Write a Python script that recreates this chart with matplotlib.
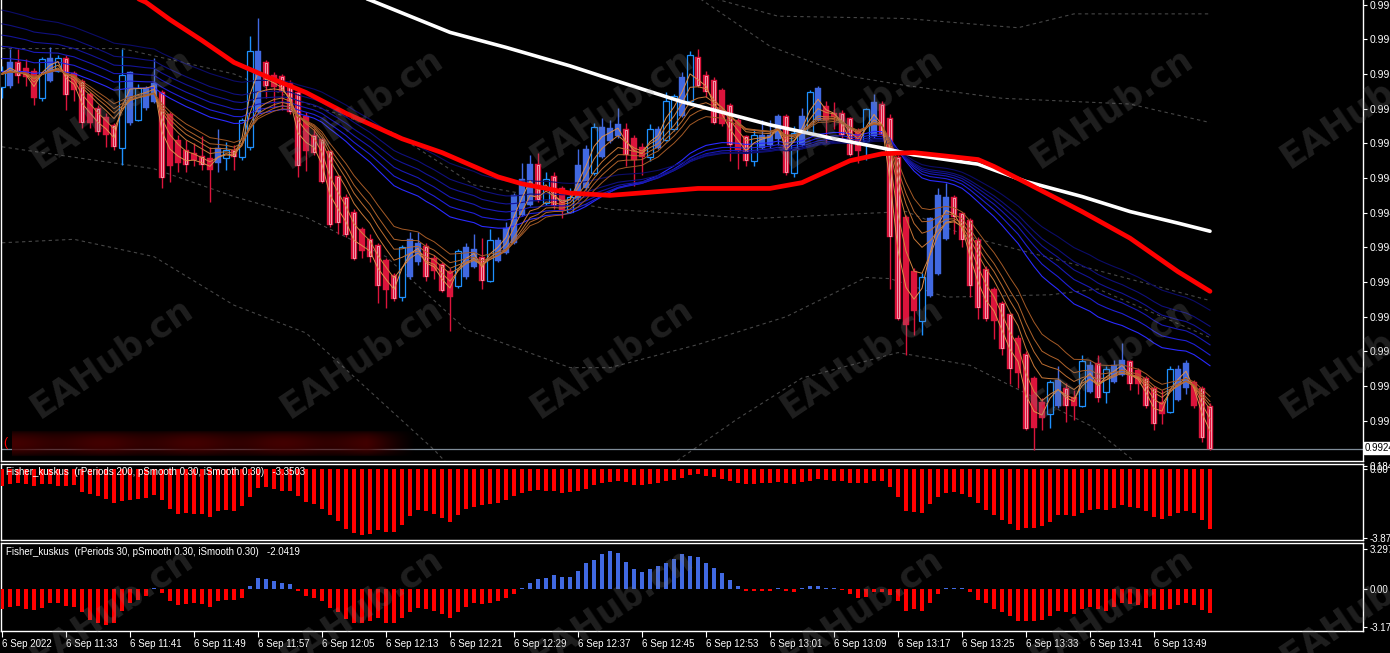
"""
MT4-style 1-minute chart with GMMA ribbons and two Fisher_kuskus sub-windows.
"""

import numpy as np
import pandas as pd
import matplotlib
matplotlib.use("Agg")
import matplotlib.pyplot as plt

# ── Bars: 6 Sep 2022, 1-minute, 11:25 .. 13:56 ────────────────────────────────
opens = [
    0.99559, 0.99560, 0.99580, 0.99575, 0.99573, 0.99549, 0.99564, 0.99573, 0.99584, 0.99571,
    0.99564, 0.99553, 0.99541, 0.99533, 0.99526, 0.99506, 0.99528, 0.99530, 0.99541, 0.99546,
    0.99554, 0.99535, 0.99513, 0.99504, 0.99502, 0.99499, 0.99497, 0.99493, 0.99497, 0.99504,
    0.99498, 0.99507, 0.99537, 0.99580, 0.99569, 0.99568, 0.99562, 0.99554, 0.99534, 0.99517,
    0.99514, 0.99503, 0.99482, 0.99464, 0.99451, 0.99436, 0.99427, 0.99422, 0.99409, 0.99396,
    0.99377, 0.99394, 0.99407, 0.99421, 0.99411, 0.99406, 0.99400, 0.99387, 0.99394, 0.99403,
    0.99412, 0.99391, 0.99408, 0.99415, 0.99424, 0.99448, 0.99457, 0.99492, 0.99458, 0.99482,
    0.99471, 0.99451, 0.99462, 0.99471, 0.99484, 0.99498, 0.99512, 0.99516, 0.99522, 0.99515,
    0.99507, 0.99498, 0.99506, 0.99513, 0.99522, 0.99534, 0.99547, 0.99585, 0.99569, 0.99565,
    0.99556, 0.99543, 0.99530, 0.99516, 0.99495, 0.99506, 0.99509, 0.99514, 0.99534, 0.99484,
    0.99509, 0.99519, 0.99530, 0.99542, 0.99536, 0.99536, 0.99532, 0.99521, 0.99512, 0.99516,
    0.99544, 0.99532, 0.99498, 0.99446, 0.99400, 0.99356, 0.99378, 0.99397, 0.99427, 0.99464,
    0.99450, 0.99444, 0.99426, 0.99401, 0.99384, 0.99372, 0.99362, 0.99342, 0.99328, 0.99307,
    0.99286, 0.99276, 0.99283, 0.99298, 0.99291, 0.99283, 0.99295, 0.99320, 0.99295, 0.99304,
    0.99310, 0.99322, 0.99314, 0.99307, 0.99298, 0.99286, 0.99278, 0.99288, 0.99298, 0.99304,
    0.99298, 0.99283,
]
highs = [
    0.99577, 0.99592, 0.99592, 0.99583, 0.99575, 0.99585, 0.99593, 0.99586, 0.99586, 0.99573,
    0.99566, 0.99554, 0.99543, 0.99536, 0.99528, 0.99592, 0.99573, 0.99561, 0.99560, 0.99584,
    0.99556, 0.99537, 0.99517, 0.99513, 0.99510, 0.99516, 0.99507, 0.99522, 0.99511, 0.99509,
    0.99532, 0.99603, 0.99618, 0.99582, 0.99572, 0.99570, 0.99565, 0.99556, 0.99537, 0.99522,
    0.99515, 0.99504, 0.99483, 0.99466, 0.99453, 0.99438, 0.99432, 0.99424, 0.99411, 0.99398,
    0.99422, 0.99433, 0.99433, 0.99424, 0.99413, 0.99407, 0.99402, 0.99419, 0.99424, 0.99432,
    0.99428, 0.99436, 0.99429, 0.99442, 0.99467, 0.99493, 0.99500, 0.99502, 0.99485, 0.99485,
    0.99473, 0.99471, 0.99505, 0.99509, 0.99528, 0.99532, 0.99530, 0.99541, 0.99528, 0.99517,
    0.99510, 0.99527, 0.99525, 0.99554, 0.99553, 0.99572, 0.99590, 0.99592, 0.99573, 0.99567,
    0.99558, 0.99545, 0.99532, 0.99517, 0.99522, 0.99530, 0.99530, 0.99535, 0.99535, 0.99525,
    0.99541, 0.99556, 0.99560, 0.99547, 0.99546, 0.99539, 0.99533, 0.99523, 0.99541, 0.99553,
    0.99547, 0.99535, 0.99500, 0.99448, 0.99402, 0.99398, 0.99446, 0.99471, 0.99476, 0.99465,
    0.99451, 0.99445, 0.99429, 0.99404, 0.99386, 0.99374, 0.99363, 0.99344, 0.99330, 0.99309,
    0.99290, 0.99305, 0.99317, 0.99303, 0.99297, 0.99327, 0.99322, 0.99327, 0.99317, 0.99323,
    0.99337, 0.99323, 0.99316, 0.99309, 0.99300, 0.99297, 0.99317, 0.99318, 0.99323, 0.99305,
    0.99300, 0.99285,
]
lows = [
    0.99549, 0.99558, 0.99562, 0.99560, 0.99543, 0.99547, 0.99563, 0.99572, 0.99539, 0.99547,
    0.99523, 0.99523, 0.99517, 0.99507, 0.99504, 0.99491, 0.99526, 0.99529, 0.99539, 0.99545,
    0.99471, 0.99477, 0.99485, 0.99485, 0.99490, 0.99487, 0.99459, 0.99485, 0.99487, 0.99487,
    0.99496, 0.99504, 0.99536, 0.99549, 0.99541, 0.99539, 0.99535, 0.99481, 0.99486, 0.99500,
    0.99476, 0.99438, 0.99432, 0.99429, 0.99409, 0.99411, 0.99407, 0.99372, 0.99368, 0.99374,
    0.99374, 0.99393, 0.99405, 0.99391, 0.99393, 0.99381, 0.99348, 0.99385, 0.99393, 0.99402,
    0.99384, 0.99390, 0.99407, 0.99414, 0.99423, 0.99447, 0.99456, 0.99459, 0.99457, 0.99453,
    0.99445, 0.99450, 0.99461, 0.99470, 0.99483, 0.99497, 0.99510, 0.99515, 0.99490, 0.99473,
    0.99483, 0.99495, 0.99505, 0.99512, 0.99521, 0.99533, 0.99546, 0.99559, 0.99550, 0.99527,
    0.99525, 0.99495, 0.99488, 0.99490, 0.99490, 0.99505, 0.99506, 0.99509, 0.99483, 0.99481,
    0.99508, 0.99518, 0.99529, 0.99510, 0.99522, 0.99514, 0.99499, 0.99493, 0.99496, 0.99515,
    0.99516, 0.99384, 0.99357, 0.99327, 0.99344, 0.99344, 0.99377, 0.99396, 0.99426, 0.99432,
    0.99420, 0.99377, 0.99358, 0.99356, 0.99341, 0.99327, 0.99302, 0.99298, 0.99262, 0.99245,
    0.99262, 0.99264, 0.99281, 0.99269, 0.99271, 0.99282, 0.99294, 0.99286, 0.99285, 0.99303,
    0.99309, 0.99297, 0.99293, 0.99281, 0.99262, 0.99267, 0.99277, 0.99287, 0.99293, 0.99281,
    0.99252, 0.99245,
]
closes = [
    0.99573, 0.99580, 0.99568, 0.99567, 0.99549, 0.99583, 0.99584, 0.99584, 0.99552, 0.99556,
    0.99528, 0.99528, 0.99520, 0.99517, 0.99507, 0.99569, 0.99572, 0.99558, 0.99558, 0.99562,
    0.99480, 0.99490, 0.99493, 0.99491, 0.99496, 0.99491, 0.99487, 0.99506, 0.99504, 0.99498,
    0.99530, 0.99590, 0.99590, 0.99560, 0.99559, 0.99554, 0.99537, 0.99490, 0.99503, 0.99502,
    0.99477, 0.99439, 0.99441, 0.99431, 0.99410, 0.99417, 0.99412, 0.99387, 0.99383, 0.99375,
    0.99420, 0.99427, 0.99424, 0.99394, 0.99400, 0.99382, 0.99377, 0.99417, 0.99420, 0.99419,
    0.99391, 0.99426, 0.99426, 0.99437, 0.99465, 0.99479, 0.99492, 0.99461, 0.99479, 0.99456,
    0.99452, 0.99464, 0.99491, 0.99505, 0.99524, 0.99524, 0.99523, 0.99527, 0.99500, 0.99496,
    0.99498, 0.99522, 0.99522, 0.99547, 0.99551, 0.99567, 0.99586, 0.99560, 0.99554, 0.99528,
    0.99527, 0.99509, 0.99503, 0.99495, 0.99517, 0.99517, 0.99517, 0.99534, 0.99484, 0.99519,
    0.99534, 0.99554, 0.99558, 0.99530, 0.99533, 0.99517, 0.99500, 0.99503, 0.99540, 0.99546,
    0.99517, 0.99429, 0.99358, 0.99353, 0.99365, 0.99394, 0.99445, 0.99465, 0.99464, 0.99446,
    0.99426, 0.99387, 0.99368, 0.99358, 0.99356, 0.99332, 0.99315, 0.99311, 0.99263, 0.99264,
    0.99272, 0.99304, 0.99305, 0.99283, 0.99283, 0.99322, 0.99318, 0.99290, 0.99315, 0.99318,
    0.99323, 0.99302, 0.99302, 0.99283, 0.99267, 0.99276, 0.99315, 0.99315, 0.99320, 0.99283,
    0.99255, 0.99246,
]
# body look per bar: f = filled, h = hollow (bull), s = striped (bear)
styles = ("hfsffhfhsf" "sfsfshfhff" "sffsfsffhs" "hhfsfsssfs" "sssssfssfs"
          "hffsfsfhff" "shfffffshs" "fhffhfffsf" "fhfhhfhsss" "fsfshfffsh"
          "fhfffssfhf" "sssffhfffs" "ssssfssfsf" "fhfsfhfshf" "fsfssfhfff" "ss")

# ── slow moving averages (red / white), read at bar indexes ───────────────────
red_ma_idx = [0, 12, 18, 21, 25, 29, 33, 38, 43, 50, 55, 62, 65, 71, 76, 87, 96,
              100, 106, 110, 114, 118, 122, 124, 128, 135, 141, 147, 151]
red_ma = [0.99695, 0.99651, 0.99632, 0.99617, 0.99599, 0.99580, 0.99568, 0.99554,
          0.99536, 0.99514, 0.99502, 0.99481, 0.99475, 0.99467, 0.99465, 0.99471,
          0.99471, 0.99476, 0.99495, 0.99501, 0.99502, 0.99499, 0.99496, 0.99490,
          0.99476, 0.99451, 0.99428, 0.99399, 0.99382]
white_ma_idx = [0, 30, 46, 56, 63, 71, 75, 85, 96, 104, 110, 114, 118, 122, 128,
                135, 141, 147, 151]
white_ma = [0.99746, 0.99673, 0.99634, 0.99606, 0.99593, 0.99577, 0.99568, 0.99546,
            0.99526, 0.99514, 0.99506, 0.99500, 0.99496, 0.99492, 0.99477, 0.99464,
            0.99451, 0.99441, 0.99434]

# ── dashed envelope lines ─────────────────────────────────────────────────────
band_g_idx = [85, 97, 113, 127, 134, 151]
band_g = [0.99643, 0.99620, 0.99618, 0.99610, 0.99622, 0.99622]
band_f_idx = [86, 96, 106, 113, 125, 141, 151]
band_f = [0.99641, 0.99594, 0.99568, 0.99560, 0.99549, 0.99544, 0.99528]
band_a_idx = [0, 15, 29, 37, 49, 59, 76, 94, 113, 121, 137, 151]
band_a = [0.99592, 0.99592, 0.99570, 0.99547, 0.99519, 0.99474, 0.99453, 0.99445,
          0.99451, 0.99429, 0.99400, 0.99374]
band_b_idx = [0, 19, 29, 38, 48, 58, 71, 76, 87, 98, 108, 111, 118, 131, 137, 151]
band_b = [0.99507, 0.99488, 0.99464, 0.99446, 0.99412, 0.99349, 0.99316, 0.99316,
          0.99336, 0.99360, 0.99394, 0.99393, 0.99377, 0.99379, 0.99384, 0.99342]
band_c_idx = [0, 9, 19, 29, 38, 54, 60]
band_c = [0.99424, 0.99427, 0.99412, 0.99370, 0.99346, 0.99245, 0.99201]
band_d_idx = [81, 87, 92, 100, 112, 121, 136, 143]
band_d = [0.99219, 0.99248, 0.99272, 0.99307, 0.99329, 0.99318, 0.99266, 0.99227]

# ── GMMA ribbons (EMA periods and starting values at the first bar) ───────────
gmma_fast = [3, 5, 8, 10, 12, 15]
gmma_slow = [30, 35, 40, 45, 50, 60]
gmma_fast_seed = [0.99568, 0.99568, 0.99569, 0.99569, 0.99570, 0.99570]
gmma_slow_seed = [0.99572, 0.99584, 0.99595, 0.99605, 0.99615, 0.99627]

# ── Fisher_kuskus histograms ──────────────────────────────────────────────────
fisher200 = [
    -0.93, -0.84, -0.80, -0.84, -0.97, -0.84, -0.84, -0.93, -0.97, -0.87,
    -1.26, -1.38, -1.51, -1.66, -1.89, -1.79, -1.75, -1.66, -1.60, -1.44,
    -1.71, -2.26, -2.53, -2.48, -2.53, -2.53, -2.71, -2.33, -2.30, -2.33,
    -2.08, -1.57, -1.06, -1.02, -1.11, -1.20, -1.24, -1.53, -1.87, -1.98,
    -2.22, -2.57, -2.94, -3.36, -3.62, -3.72, -3.66, -3.40, -3.56, -3.56,
    -3.12, -2.62, -2.30, -2.35, -2.51, -2.73, -2.95, -2.57, -2.24, -2.13,
    -2.02, -1.97, -1.91, -1.75, -1.53, -1.31, -1.20, -1.15, -1.20, -1.20,
    -1.31, -1.26, -1.20, -1.09, -0.87, -0.77, -0.71, -0.66, -0.71, -0.87,
    -0.87, -0.82, -0.77, -0.66, -0.60, -0.49, -0.33, -0.27, -0.38, -0.44,
    -0.55, -0.66, -0.77, -0.82, -0.82, -0.77, -0.77, -0.71, -0.77, -0.82,
    -0.71, -0.66, -0.55, -0.60, -0.66, -0.66, -0.77, -0.77, -0.77, -0.66,
    -0.66, -0.98, -1.58, -2.35, -2.40, -2.46, -1.97, -1.58, -1.31, -1.26,
    -1.37, -1.58, -1.91, -2.30, -2.57, -2.84, -3.11, -3.44, -3.33, -3.33,
    -3.22, -2.95, -2.57, -2.57, -2.62, -2.46, -2.30, -2.24, -2.30, -2.19,
    -2.02, -2.13, -2.19, -2.35, -2.68, -2.79, -2.62, -2.46, -2.35, -2.46,
    -2.84, -3.35,
]
fisher30 = [
    -1.67, -1.52, -1.44, -1.67, -1.74, -1.62, -1.22, -1.22, -1.44, -1.52,
    -1.97, -2.57, -2.87, -3.02, -2.87, -1.82, -1.22, -0.97, -0.60, 0.05,
    -0.39, -1.06, -1.36, -1.29, -1.22, -1.29, -1.52, -1.06, -0.97, -0.97,
    -0.75, 0.24, 0.90, 0.84, 0.60, 0.46, 0.36, -0.21, -0.60, -0.75,
    -1.06, -1.60, -1.97, -2.50, -2.87, -2.87, -2.65, -2.42, -2.87, -2.87,
    -2.42, -1.90, -1.60, -1.67, -1.82, -2.12, -2.42, -1.97, -1.52, -1.22,
    -1.29, -1.22, -1.06, -0.75, -0.45, 0.10, 0.45, 0.84, 0.90, 1.12,
    1.00, 1.00, 1.50, 2.10, 2.40, 2.90, 3.10, 3.00, 2.25, 1.65,
    1.42, 1.60, 1.87, 2.17, 2.47, 2.85, 2.70, 2.62, 2.17, 1.72,
    1.30, 0.69, 0.21, -0.15, -0.20, -0.20, -0.15, 0.05, -0.20, -0.30,
    0.05, 0.20, 0.24, 0.08, 0.03, -0.08, -0.45, -0.80, -0.70, -0.30,
    -0.30, -0.50, -1.06, -1.82, -1.67, -1.82, -1.22, -0.45, 0.03, 0.10,
    0.03, -0.30, -0.90, -1.22, -1.67, -1.97, -2.27, -2.72, -2.72, -2.72,
    -2.57, -2.27, -1.82, -1.97, -2.12, -1.67, -1.52, -1.67, -1.82, -1.52,
    -1.22, -1.29, -1.36, -1.60, -1.65, -1.78, -1.65, -1.33, -1.20, -1.33,
    -1.73, -2.04,
]

# ── axis texts ────────────────────────────────────────────────────────────────
time_tick_idx = list(range(0, 152, 8))
time_labels = ["6 Sep 2022", "6 Sep 11:33", "6 Sep 11:41", "6 Sep 11:49", "6 Sep 11:57",
               "6 Sep 12:05", "6 Sep 12:13", "6 Sep 12:21", "6 Sep 12:29", "6 Sep 12:37",
               "6 Sep 12:45", "6 Sep 12:53", "6 Sep 13:01", "6 Sep 13:09", "6 Sep 13:17",
               "6 Sep 13:25", "6 Sep 13:33", "6 Sep 13:41", "6 Sep 13:49"]
price_ticks = [0.99270, 0.99300, 0.99330, 0.99360, 0.99390, 0.99420, 0.99450,
               0.99480, 0.99510, 0.99540, 0.99570, 0.99600, 0.99630]
fisher200_ticks = [0.184, 0.0, -3.874]
fisher30_ticks = [3.297, 0.0, -3.179]
title200 = "Fisher_kuskus  (rPeriods 200, pSmooth 0.30, iSmooth 0.30)   -3.3503"
title30 = "Fisher_kuskus  (rPeriods 30, pSmooth 0.30, iSmooth 0.30)   -2.0419"

# ── colours ───────────────────────────────────────────────────────────────────
BULL = "#4169e1"
BULL_EDGE = "#1e90ff"
BEAR = "#dc143c"
ORANGES = ["#e0904c", "#d4843f", "#c87838", "#bc6d31", "#b0632b", "#a45a26"]
BLUES = ["#2a2aff", "#2020d8", "#1a1ab8", "#141498", "#10107e", "#0c0c68"]
FONT = "Liberation Sans"

plt.rcParams["font.family"] = [FONT, "DejaVu Sans"]

W, H = 1390, 653
fig = plt.figure(figsize=(W / 100, H / 100), dpi=100, facecolor="black")


def px_axes(x0, y0, x1, y1):
    """Axes placed by pixel box (top-left origin)."""
    a = fig.add_axes([x0 / W, 1 - y1 / H, (x1 - x0) / W, (y1 - y0) / H])
    a.set_facecolor("black")
    for s in a.spines.values():
        s.set_color("white")
        s.set_linewidth(1.0)
    a.set_xlim(-0.125, 170.125)
    a.yaxis.tick_right()
    a.tick_params(axis="y", colors="white", labelsize=7, length=3, pad=2, width=0.8)
    a.tick_params(axis="x", bottom=False, labelbottom=False)
    return a


ax = px_axes(1, 0, 1363, 461)
ax1 = px_axes(1, 464, 1363, 540)
ax2 = px_axes(1, 543, 1363, 631)
ax.spines["top"].set_visible(False)

px_price = 0.00000865          # price per pixel in the main window
ax.set_ylim(0.99634 - 461 * px_price, 0.99634)

x = np.arange(len(closes))
o = np.array(opens)
h = np.array(highs)
lo = np.array(lows)
c = np.array(closes)
st = np.array(list(styles))
bull = c >= o
body_lo = np.minimum(o, c)
body_h = np.maximum(np.abs(c - o), px_price)

# ── envelope lines (behind everything) ────────────────────────────────────────
for bi, bv in [(band_g_idx, band_g), (band_f_idx, band_f), (band_a_idx, band_a),
               (band_b_idx, band_b), (band_c_idx, band_c), (band_d_idx, band_d)]:
    ax.plot(bi, bv, color="#474747", lw=0.8, ls=(0, (3, 3)), zorder=1)

# ── candles ───────────────────────────────────────────────────────────────────
hol = bull & (st == "h")
fil = bull & ~hol
bear = ~bull
stripe = bear & (st == "s")
bw = 0.72

ax.vlines(x[hol], lo[hol], h[hol], color=BULL_EDGE, lw=1, zorder=3)
ax.vlines(x[fil], lo[fil], h[fil], color=BULL, lw=1, zorder=3)
ax.vlines(x[bear], lo[bear], h[bear], color=BEAR, lw=1, zorder=3)
ax.bar(x[hol], body_h[hol], bw, bottom=body_lo[hol], color="black",
       edgecolor=BULL_EDGE, linewidth=0.9, zorder=4)
ax.bar(x[fil], body_h[fil], bw, bottom=body_lo[fil], color=BULL,
       edgecolor=BULL, linewidth=0.3, zorder=4)
ax.bar(x[bear], body_h[bear], bw, bottom=body_lo[bear], color=BEAR,
       edgecolor=BEAR, linewidth=0.3, zorder=4)
inner_h = np.maximum(body_h[stripe] - 2 * px_price, px_price)
ax.bar(x[stripe], inner_h, 0.28, bottom=body_lo[stripe] + px_price, color="none",
       edgecolor="#ffe8ec", linewidth=0.45, zorder=5)

# ── GMMA ribbons from closes ──────────────────────────────────────────────────
cl = pd.Series(closes)
for p, seed, col in zip(gmma_slow, gmma_slow_seed, BLUES):
    ema = pd.concat([pd.Series([seed]), cl], ignore_index=True)
    ema = ema.ewm(span=p, adjust=False).mean().iloc[1:].to_numpy()
    ax.plot(x, ema, color=col, lw=0.8, zorder=6)
for p, seed, col in zip(gmma_fast, gmma_fast_seed, ORANGES):
    ema = pd.concat([pd.Series([seed]), cl], ignore_index=True)
    ema = ema.ewm(span=p, adjust=False).mean().iloc[1:].to_numpy()
    ax.plot(x, ema, color=col, lw=0.7, zorder=7)

ax.plot(white_ma_idx, white_ma, color="white", lw=2.6, zorder=8,
        solid_capstyle="round")
ax.plot(red_ma_idx, red_ma, color="#ff0000", lw=3.4, zorder=9,
        solid_capstyle="round")

# current price line + label
ax.axhline(closes[-1], color="#7f8c98", lw=0.9, zorder=2)
ax.set_yticks(price_ticks)
ax.set_yticklabels([f"{v:.5f}" for v in price_ticks])
ax.tick_params(axis="y", labelsize=7.5)
fig.text(1365 / W, 1 - 448 / H, f"{closes[-1]:.5f}", fontsize=7, color="black",
         va="center", ha="left",
         bbox=dict(boxstyle="square,pad=0.12", fc="white", ec="white"))

# blurred red strip at the bottom-left of the main window
strip = fig.add_axes([12 / W, 1 - 457 / H, 403 / W, 27 / H])
strip.axis("off")
gx = np.linspace(0, 1, 300)
gy = np.linspace(0, 1, 30)
alpha = (np.sin(np.pi * gy)[:, None] ** 0.6) * np.clip((1 - gx[None, :]) / 0.12, 0, 1)
alpha = alpha * (0.75 + 0.25 * np.cos(gx * 14)[None, :] ** 2)
img = np.zeros((30, 300, 4))
img[..., 0] = 0.26
img[..., 3] = alpha
strip.imshow(img, aspect="auto", interpolation="bilinear")
ax.text(2 / 1362, 1 - 443 / 461, "(", transform=ax.transAxes, color="#ff0000",
        fontsize=9, va="center", ha="left", zorder=10)

# ── Fisher 200 window ─────────────────────────────────────────────────────────
f200 = np.array(fisher200)
ax1.set_ylim(-3.874 - 2 * 0.05636, 0.184 + 2 * 0.05636)
ax1.bar(x, f200, 0.45, color="#ff0000", zorder=3)
ax1.set_yticks(fisher200_ticks)
ax1.set_yticklabels(["0.184", "0.00", "-3.874"])
ax1.text(0.004, 0.89, title200, transform=ax1.transAxes, color="white",
         fontsize=7, va="center", ha="left", zorder=5)

# ── Fisher 30 window ──────────────────────────────────────────────────────────
f30 = np.array(fisher30)
ax2.set_ylim(-3.179 - 4 * 0.083, 3.297 + 6 * 0.083)
pos = f30 >= 0
ax2.bar(x[pos], f30[pos], 0.45, color=BULL, zorder=3)
ax2.bar(x[~pos], f30[~pos], 0.45, color="#ff0000", zorder=3)
ax2.set_yticks(fisher30_ticks)
ax2.set_yticklabels(["3.297", "0.00", "-3.179"])
ax2.text(0.004, 0.90, title30, transform=ax2.transAxes, color="white",
         fontsize=7, va="center", ha="left", zorder=5)

ax2.set_xticks(time_tick_idx)
ax2.set_xticklabels(time_labels, ha="left")
ax2.tick_params(axis="x", bottom=True, labelbottom=True, colors="white",
                labelsize=7, length=4, width=0.8, pad=1.5)

# ── watermark ─────────────────────────────────────────────────────────────────
for wy in [108, 358, 608]:
    for wx in [112, 362, 612, 862, 1112, 1362]:
        fig.text(wx / W, 1 - wy / H, "EAHub.cn", fontsize=25, fontweight="bold",
                 family="DejaVu Sans", color="#808080", alpha=0.24, rotation=34,
                 ha="center", va="center", zorder=20)

fig.savefig("out.png", dpi=100, facecolor="black")
